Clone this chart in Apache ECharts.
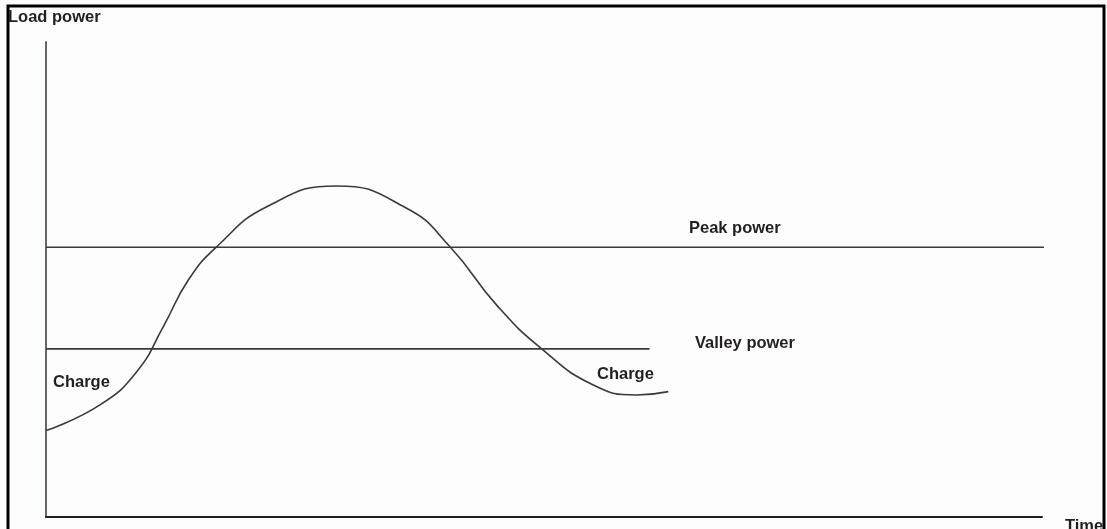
<!DOCTYPE html>
<html>
<head>
<meta charset="utf-8">
<style>
  html, body { margin: 0; padding: 0; background: #fdfdfd; }
  #chart { width: 1107px; height: 529px; }
</style>
<script src="https://cdn.jsdelivr.net/npm/echarts@6/dist/echarts.min.js"></script>
</head>
<body>
<div id="chart"></div>
<script>
// Load curve over one period: time (0–100) and load power (0–100)
const loadTime  = [0, 5.42, 9.11, 11.78, 14.29, 17.14, 22.16, 29.19, 36.21, 40.56, 45.25, 49.77, 54.95, 59.3, 62.48];
const loadPower = [18.2, 23.6, 30.6, 40.1, 49.9, 56.9, 65.3, 69.7, 65.0, 56.9, 44.6, 35.4, 27.8, 25.7, 26.4];

// Threshold levels and how far along the time axis each one runs
const peakLevel = 56.8;
const peakSpan = [0, 100.7];
const valleyLevel = 35.4;
const valleySpan = [0, 60.6];

const axisNames = { y: 'Load power', x: 'Time' };
const levelNames = { peak: 'Peak power', valley: 'Valley power' };
const chargeLabel = 'Charge';

const curve = loadTime.map((t, i) => [t, loadPower[i]]);
const peakLine = peakSpan.map(t => [t, peakLevel]);
const valleyLine = valleySpan.map(t => [t, valleyLevel]);

const chart = echarts.init(document.getElementById('chart'), null, { renderer: 'canvas' });

const font = 'bold 16.5px "Liberation Sans", Arial, sans-serif';
const textColor = '#231f20';

function label(text, x, y) {
  return {
    type: 'text',
    style: { x, y, text, font, fill: textColor, textVerticalAlign: 'top' }
  };
}

chart.setOption({
  backgroundColor: '#fdfdfd',
  animation: false,
  grid: { left: 46, right: 65, top: 42, bottom: 12, containLabel: false },
  xAxis: {
    type: 'value', min: 0, max: 100,
    axisLine: { show: true, lineStyle: { color: '#1e1e1e', width: 2 } },
    axisTick: { show: false }, axisLabel: { show: false }, splitLine: { show: false }
  },
  yAxis: {
    type: 'value', min: 0, max: 100,
    axisLine: { show: true, lineStyle: { color: '#6b6462', width: 2 } },
    axisTick: { show: false }, axisLabel: { show: false }, splitLine: { show: false }
  },
  series: [
    {
      type: 'line', data: curve, smooth: 0.5, symbol: 'none', clip: false,
      lineStyle: { color: '#3a3a3a', width: 1.6 }
    },
    {
      type: 'line', data: peakLine, symbol: 'none', clip: false,
      lineStyle: { color: '#3a3a3a', width: 1.6 }
    },
    {
      type: 'line', data: valleyLine, symbol: 'none', clip: false,
      lineStyle: { color: '#3a3a3a', width: 1.6 }
    }
  ],
  graphic: [
    {
      type: 'polyline',
      shape: { points: [[8, 529], [8, 6], [1104, 6], [1104, 529]] },
      style: { stroke: '#000', lineWidth: 3, fill: null }
    },
    label(axisNames.y, 8, 9),
    label(axisNames.x, 1065, 518),
    label(levelNames.peak, 689, 220),
    label(levelNames.valley, 695, 335),
    label(chargeLabel, 53, 374),
    label(chargeLabel, 597, 366)
  ]
});
</script>
</body>
</html>
